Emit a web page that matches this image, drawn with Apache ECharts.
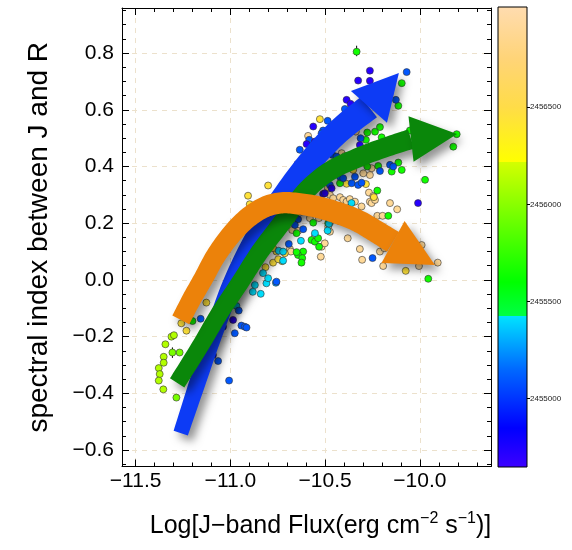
<!DOCTYPE html>
<html><head><meta charset="utf-8">
<script src="https://cdn.jsdelivr.net/npm/echarts@6/dist/echarts.min.js"></script>
<style>html,body{margin:0;padding:0;background:#fff}#c{width:572px;height:550px}</style>
</head><body><div id="c"></div>
<script>
// ---------- axis ranges and ticks ----------
const xRange = [-11.572, -9.625];
const yRange = [-0.658, 0.959];
const jdRange = [2454648, 2457016];
const xTickValues = [-11.5, -11.0, -10.5, -10.0];
const xMinorValues = [-11.4,-11.3,-11.2,-11.1,-10.9,-10.8,-10.7,-10.6,-10.4,-10.3,-10.2,-10.1,-9.9,-9.8,-9.7];
const yTickValues = [-0.6,-0.4,-0.2,0.0,0.2,0.4,0.6,0.8];
const yMinorValues = [-0.65,-0.55,-0.5,-0.45,-0.35,-0.3,-0.25,-0.15,-0.1,-0.05,0.05,0.1,0.15,0.25,0.3,0.35,0.45,0.5,0.55,0.65,0.7,0.75,0.85,0.9,0.95];
const jdTickValues = [2455000, 2455500, 2456000, 2456500];

// ---------- colour map (Julian date -> colour) ----------
const cmapStops = [
  [2454648,'#3c00ff'],[2454850,'#0000ff'],[2455150,'#0068ff'],[2455428,'#00e4ff'],
  [2455428,'#00ff44'],[2455600,'#00ff00'],[2456218,'#d4ff00'],
  [2456218,'#ffff00'],[2456500,'#ffdc48'],[2456750,'#ffd478'],[2457016,'#ffdcb0']
];

// ---------- observations, grouped by epoch (JD) ----------
const jdPurple = 2454720;
const ptsPurple = [[-10.986,-0.141],[-10.511,0.303],[-10.264,0.738],[-10.326,0.703],[-10.264,0.702],[-10.387,0.635],[-10.366,0.621],[-10.563,0.541],[-10.598,0.479],[-10.554,0.488],[-10.646,0.409],[-10.317,0.476],[-10.502,0.306],[-10.466,0.323],[-10.010,0.271]];
const jdDarkBlue = 2454880;
const ptsDarkBlue = [[-11.039,-0.165],[-11.086,-0.229],[-11.109,-0.253],[-11.092,-0.265],[-11.114,-0.282],[-11.153,-0.359]];
const jdBlue = 2455100;
const ptsBlue = [[-10.956,-0.108],[-10.942,-0.161],[-10.924,-0.165],[-10.915,-0.168],[-10.977,-0.188],[-11.065,-0.286],[-11.007,-0.355],[-11.157,-0.137],[-10.757,-0.006],[-10.643,0.214],[-10.660,0.194],[-10.616,0.179],[-10.692,0.127],[-10.070,0.733],[-10.396,0.603],[-10.127,0.635],[-10.487,0.561],[-10.511,0.527],[-10.519,0.517],[-10.584,0.494],[-10.313,0.500],[-10.461,0.441],[-10.440,0.435],[-10.211,0.384],[-10.158,0.406],[-10.141,0.400],[-10.343,0.364],[-10.360,0.341],[-10.326,0.335],[-10.308,0.343],[-10.475,0.335],[-10.250,0.077],[-10.625,0.241],[-10.637,0.412],[-10.466,0.402],[-10.511,0.399],[-10.422,0.364],[-10.405,0.359],[-10.634,0.459]];
const jdLightBlue = 2455300;
const ptsLightBlue = [[-10.760,-0.010],[-10.914,0.035]];
const jdCyan = 2455420;
const ptsCyan = [[-10.871,-0.018],[-10.840,-0.049],[-10.882,-0.042],[-10.968,-0.092],[-10.810,-0.012],[-10.828,0.024],[-10.801,0.006],[-10.745,0.103],[-10.722,0.068],[-10.722,0.100],[-10.628,0.138],[-10.554,0.165],[-10.480,0.198],[-10.487,0.174],[-10.361,0.271]];
const jdGreen = 2455650;
const ptsGreen = [[-11.200,-0.145],[-10.616,0.100],[-10.643,0.088],[-10.621,0.077],[-10.625,0.061],[-10.651,0.098],[-10.572,0.141],[-10.554,0.135],[-10.537,0.147],[-10.532,0.117],[-10.563,0.202],[-10.484,0.200],[-10.651,0.165],[-10.334,0.805],[-10.096,0.694],[-10.114,0.614],[-10.278,0.520],[-10.237,0.523],[-10.211,0.539],[-10.202,0.503],[-10.285,0.494],[-10.053,0.527],[-9.806,0.514],[-9.824,0.470],[-10.278,0.400],[-10.220,0.402],[-10.149,0.382],[-10.114,0.414],[-10.096,0.388],[-10.422,0.341],[-10.225,0.315],[-10.167,0.226],[-9.973,0.353],[-9.956,0.004]];
const jdLime = 2455950;
const ptsLime = [[-11.268,-0.256],[-11.306,-0.256],[-11.285,-0.415]];
const jdYellowGreen = 2456120;
const ptsYellowGreen = [[-11.311,-0.200],[-11.298,-0.195],[-11.343,-0.227],[-11.352,-0.271],[-11.352,-0.292],[-11.378,-0.311],[-11.373,-0.332],[-11.378,-0.355],[-11.354,-0.386]];
const jdGold = 2456450;
const ptsGold = [[-11.232,-0.179],[-11.259,-0.153],[-11.127,-0.080],[-10.727,0.066],[-10.713,0.094],[-10.775,0.061],[-10.815,0.045],[-10.757,0.100],[-10.775,0.112],[-10.748,0.073],[-10.801,0.333],[-10.907,0.297],[-10.898,0.267],[-10.528,0.567],[-10.352,0.388],[-10.387,0.339],[-10.285,0.338],[-10.243,0.292],[-10.075,0.032]];
const jdPeach = 2456900;
const ptsPeach = [[-10.686,0.109],[-10.681,0.100],[-10.523,0.082],[-10.519,0.117],[-10.502,0.129],[-10.475,0.170],[-10.554,0.155],[-10.674,0.176],[-10.643,0.173],[-10.581,0.218],[-10.533,0.218],[-10.475,0.202],[-10.484,0.188],[-10.426,0.208],[-10.486,0.325],[-10.475,0.300],[-10.590,0.508],[-10.338,0.523],[-10.413,0.447],[-10.396,0.437],[-10.255,0.394],[-10.264,0.370],[-10.299,0.376],[-10.458,0.288],[-10.422,0.292],[-10.405,0.282],[-10.387,0.276],[-10.370,0.285],[-10.343,0.276],[-10.308,0.259],[-10.269,0.308],[-10.246,0.296],[-10.264,0.276],[-10.255,0.271],[-10.237,0.282],[-10.158,0.271],[-10.120,0.249],[-10.225,0.226],[-10.197,0.226],[-10.381,0.147],[-10.317,0.109],[-10.211,0.100],[-10.188,0.112],[-9.991,0.123],[-10.305,0.071],[-10.194,0.049],[-10.005,0.049],[-9.906,0.061],[-10.572,0.241],[-10.511,0.241],[-10.834,0.127]];

// error bars: [x, yLow, yHigh]
const errBars = [[-10.334,0.789,0.826],[-11.306,-0.275,-0.238]];

// ---------- trend arrows (shaft path ... head base, tip) ----------
const arrowBlue = [[-11.262,-0.540],[-11.178,-0.370],[-11.093,-0.198],[-10.993,-0.018],[-10.871,0.145],[-10.739,0.279],[-10.591,0.409],[-10.433,0.522],[-10.269,0.610],[-10.111,0.730]];
const arrowGreen = [[-11.281,-0.363],[-11.162,-0.236],[-11.056,-0.116],[-10.951,-0.011],[-10.845,0.099],[-10.729,0.201],[-10.607,0.310],[-10.475,0.384],[-10.317,0.434],[-10.158,0.473],[-10.047,0.497],[-9.804,0.515]];
const arrowOrange = [[-11.262,-0.141],[-11.204,-0.067],[-11.141,0.007],[-11.077,0.085],[-10.993,0.162],[-10.908,0.219],[-10.819,0.257],[-10.729,0.272],[-10.634,0.268],[-10.539,0.257],[-10.433,0.236],[-10.327,0.208],[-10.227,0.169],[-10.142,0.134],[-9.921,0.053]];

// ---------- helpers ----------
function hex2rgb(h){return [parseInt(h.slice(1,3),16),parseInt(h.slice(3,5),16),parseInt(h.slice(5,7),16)];}
function jdColor(jd){
  for (let i=1;i<cmapStops.length;i++){
    const a=cmapStops[i-1], b=cmapStops[i];
    if (jd<=b[0]) {
      const t = b[0]===a[0]?1:(jd-a[0])/(b[0]-a[0]);
      const ca=hex2rgb(a[1]), cb=hex2rgb(b[1]);
      return 'rgb('+ca.map((v,k)=>Math.round(v+(cb[k]-v)*Math.max(0,t))).join(',')+')';
    }
  }
  return cmapStops[cmapStops.length-1][1];
}
const groups = [
  [jdPeach,ptsPeach],[jdGold,ptsGold],[jdYellowGreen,ptsYellowGreen],[jdLime,ptsLime],
  [jdGreen,ptsGreen],[jdCyan,ptsCyan],[jdLightBlue,ptsLightBlue],[jdBlue,ptsBlue],
  [jdDarkBlue,ptsDarkBlue],[jdPurple,ptsPurple]
];
const scatterData = [];
groups.forEach(g => g[1].forEach(p => scatterData.push([p[0], p[1], g[0]])));

const FONT = 'Liberation Sans';
const minus = s => s.replace('-', '\u2212');

// Catmull-Rom through pixel points
function spline(P, steps){
  const out = [];
  const n = P.length;
  for (let i=0;i<n-1;i++){
    const p0=P[Math.max(0,i-1)], p1=P[i], p2=P[i+1], p3=P[Math.min(n-1,i+2)];
    for (let s=0;s<steps;s++){
      const t=s/steps, t2=t*t, t3=t2*t;
      out.push([0,1].map(k=>0.5*(2*p1[k]+(-p0[k]+p2[k])*t+(2*p0[k]-5*p1[k]+4*p2[k]-p3[k])*t2+(-p0[k]+3*p1[k]-3*p2[k]+p3[k])*t3)));
    }
  }
  out.push(P[n-1]);
  return out;
}

function arrowSeries(path, color, w0, w1, hw, z) {
  return {
    type:'custom', xAxisIndex:0, yAxisIndex:0, z:z, silent:true, clip:false,
    data:[path[0]],
    renderItem:function(params, api){
      const px = path.map(p => api.coord(p));
      const tip = px[px.length-1], base = px[px.length-2];
      const c = spline(px.slice(0,-1), 10);
      const cum=[0];
      for (let i=1;i<c.length;i++) cum.push(cum[i-1]+Math.hypot(c[i][0]-c[i-1][0], c[i][1]-c[i-1][1]));
      const S = cum[cum.length-1];
      const left=[], right=[];
      for (let i=0;i<c.length;i++){
        const a=c[Math.max(0,i-1)], b=c[Math.min(c.length-1,i+1)];
        const dx=b[0]-a[0], dy=b[1]-a[1], L=Math.hypot(dx,dy)||1;
        const nx=-dy/L, ny=dx/L;
        const w=(w0+(w1-w0)*cum[i]/S)/2;
        left.push([c[i][0]+nx*w, c[i][1]+ny*w]);
        right.push([c[i][0]-nx*w, c[i][1]-ny*w]);
      }
      const body = left.concat(right.reverse());
      const dx = tip[0]-base[0], dy = tip[1]-base[1], L = Math.hypot(dx,dy);
      const nx = -dy/L, ny = dx/L;
      const sh = {shadowBlur:9, shadowColor:'rgba(0,0,0,0.42)', shadowOffsetX:5, shadowOffsetY:6};
      return {type:'group', children:[
        {type:'polygon', shape:{points:body}, style:Object.assign({fill:color}, sh)},
        {type:'polygon', shape:{points:[[base[0]+nx*hw, base[1]+ny*hw], tip, [base[0]-nx*hw, base[1]-ny*hw]]},
         style:Object.assign({fill:color}, sh)}
      ]};
    }
  };
}

function mainAxis(dim, pos, range, ticks, len, opts) {
  const o = {
    type:'value', gridIndex:0, position:pos, min:range[0], max:range[1],
    axisLine:{show:true, onZero:false, lineStyle:{color:'#000', width:1}},
    axisTick:{show:true, inside:true, length:len, customValues:ticks, lineStyle:{color:'#000', width:1}},
    axisLabel:{show:false},
    splitLine:{show:false}
  };
  return Object.assign(o, opts || {});
}

const chart = echarts.init(document.getElementById('c'), null, {renderer:'canvas'});
chart.setOption({
  animation:false,
  textStyle:{fontFamily:FONT},
  grid:[
    {left:122, top:8, width:369, height:458.5},
    {left:498, top:7, width:29, height:460}
  ],
  xAxis:[
    mainAxis('x','bottom',xRange,xTickValues,7,{
      axisLabel:{show:true, customValues:xTickValues, fontSize:21, color:'#000', margin:4, fontFamily:FONT,
        formatter:v=>minus(v.toFixed(1))},
      splitLine:{show:true, lineStyle:{color:'#ece1cc', type:[5,5], width:1}},
      name:'Log[J\u2212band Flux(erg cm{sup|\u22122} s{sup|\u22121})]',
      nameLocation:'middle', nameGap:44,
      nameTextStyle:{fontSize:25, color:'#000', fontFamily:FONT, lineHeight:31, padding:[0,0,0,28],
        rich:{sup:{fontSize:16, color:'#000', fontFamily:FONT, verticalAlign:'top', lineHeight:15}}}
    }),
    mainAxis('x','top',xRange,xTickValues,7),
    mainAxis('x','bottom',xRange,xMinorValues,4,{axisLine:{show:false,onZero:false}}),
    mainAxis('x','top',xRange,xMinorValues,4,{axisLine:{show:false,onZero:false}}),
    {type:'value', gridIndex:1, min:0, max:1, show:false}
  ],
  yAxis:[
    mainAxis('y','left',yRange,yTickValues,7,{
      axisLabel:{show:true, customValues:yTickValues, fontSize:21, color:'#000', margin:8, fontFamily:FONT,
        formatter:v=>minus(v.toFixed(1))},
      splitLine:{show:true, lineStyle:{color:'#ece1cc', type:[5,5], width:1}},
      name:'spectral index between J and R',
      nameLocation:'middle', nameGap:66,
      nameTextStyle:{fontSize:28, color:'#000', fontFamily:FONT, lineHeight:33}
    }),
    mainAxis('y','right',yRange,yTickValues,7),
    mainAxis('y','left',yRange,yMinorValues,4,{axisLine:{show:false,onZero:false}}),
    mainAxis('y','right',yRange,yMinorValues,4,{axisLine:{show:false,onZero:false}}),
    {type:'value', gridIndex:1, position:'right', min:jdRange[0], max:jdRange[1],
     axisLine:{show:false, onZero:false},
     axisTick:{show:true, customValues:jdTickValues, length:3, lineStyle:{color:'#000'}},
     axisLabel:{show:true, customValues:jdTickValues, fontSize:8, color:'#222', margin:3, fontFamily:FONT, formatter:v=>String(v)},
     splitLine:{show:false}}
  ],
  series:[
    {type:'custom', xAxisIndex:0, yAxisIndex:0, z:1, silent:true, data:errBars,
     renderItem:function(params, api){
       const a = api.coord([api.value(0), api.value(1)]), b = api.coord([api.value(0), api.value(2)]);
       return {type:'line', shape:{x1:a[0], y1:a[1], x2:b[0], y2:b[1]}, style:{stroke:'#000', lineWidth:1}};
     }},
    {type:'scatter', xAxisIndex:0, yAxisIndex:0, data:scatterData, symbolSize:7, z:2, silent:true,
     itemStyle:{color:p=>jdColor(p.value[2]), borderColor:'#333', borderWidth:0.6, opacity:1}},
    arrowSeries(arrowBlue, '#0d3bf5', 15, 26, 24, 3),
    arrowSeries(arrowGreen, '#0a870a', 17, 20, 23, 4),
    arrowSeries(arrowOrange, '#ec820a', 19, 23, 24, 5),
    {type:'custom', xAxisIndex:4, yAxisIndex:4, silent:true, clip:false, z:2,
     data:[[0, jdRange[0]]],
     renderItem:function(params, api){
       const p0 = api.coord([0, jdRange[0]]), p1 = api.coord([1, jdRange[1]]);
       const span = jdRange[1]-jdRange[0];
       const stops = cmapStops.map(s => ({offset:(s[0]-jdRange[0])/span, color:s[1]}));
       return {type:'rect', shape:{x:p0[0], y:p1[1], width:p1[0]-p0[0], height:p0[1]-p1[1]},
         style:{fill:new echarts.graphic.LinearGradient(0,1,0,0,stops), stroke:'#000', lineWidth:1}};
     }}
  ]
});
</script>
</body></html>
